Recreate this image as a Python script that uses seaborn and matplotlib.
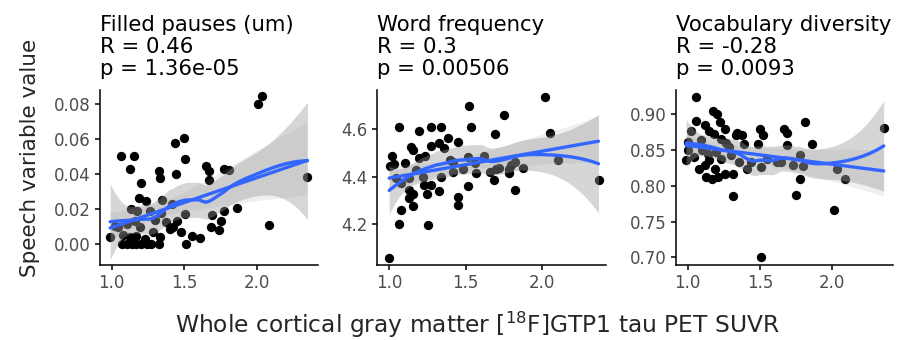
import numpy as np
import pandas as pd
import matplotlib
matplotlib.use("Agg")
import matplotlib.pyplot as plt
import seaborn as sns

# Whole cortical tau PET SUVR (x) and speech measures (y)
fp_suvr = [2.005, 2.032, 1.495, 1.436, 1.502, 1.064, 1.155, 1.126, 1.326, 1.336,
           1.445, 1.205, 1.646, 1.673, 1.669, 1.776, 1.806, 2.347, 2.084, 1.863,
           1.772, 1.753, 1.689, 1.685, 1.737, 1.605, 1.555, 1.514, 1.502, 1.350,
           1.190, 1.235, 1.132, 1.178, 1.263, 1.418, 0.990, 1.023, 1.068, 1.103,
           1.137, 1.171, 1.205, 1.240, 1.274, 1.326, 1.080, 1.126, 1.171, 1.228,
           1.285, 1.331, 1.400, 1.377, 1.450, 1.422, 1.479, 1.297, 1.194, 1.103,
           1.160, 1.046, 1.342]
fp_value = [0.0800, 0.0846, 0.0603, 0.0580, 0.0488, 0.0503, 0.0503, 0.0430, 0.0420, 0.0377,
            0.0400, 0.0350, 0.0448, 0.0417, 0.0367, 0.0430, 0.0425, 0.0383, 0.0111, 0.0205,
            0.0188, 0.0130, 0.0168, 0.0096, 0.0082, 0.0033, 0.0048, 0.0000, 0.0172, 0.0249,
            0.0264, 0.0245, 0.0200, 0.0190, 0.0186, 0.0226, 0.0038, 0.0105, 0.0000, 0.0000,
            0.0000, 0.0000, 0.0000, 0.0000, 0.0000, 0.0000, 0.0054, 0.0038, 0.0048, 0.0029,
            0.0067, 0.0042, 0.0086, 0.0124, 0.0134, 0.0096, 0.0067, 0.0138, 0.0096, 0.0115,
            0.0134, 0.0096, 0.0180]

wf_suvr = [1.000, 2.022, 2.053, 2.108, 2.371, 1.523, 1.750, 1.534, 1.695, 1.066,
           1.192, 1.272, 1.342, 1.453, 1.382, 1.325, 1.272, 1.360, 1.143, 1.155,
           1.015, 1.007, 1.030, 1.106, 1.192, 1.232, 1.397, 1.419, 1.342, 1.044,
           1.077, 1.132, 1.177, 1.221, 1.276, 1.225, 1.132, 1.155, 1.132, 1.155,
           1.077, 1.066, 1.254, 1.325, 1.248, 1.448, 1.448, 1.515, 1.486, 1.567,
           1.563, 1.623, 1.662, 1.689, 1.700, 1.784, 1.795, 1.823, 1.784, 1.823,
           1.879, 1.515, 1.419, 1.717]
wf_value = [4.059, 4.737, 4.585, 4.470, 4.386, 4.699, 4.660, 4.608, 4.580, 4.610,
            4.594, 4.608, 4.608, 4.547, 4.561, 4.540, 4.530, 4.520, 4.526, 4.512,
            4.487, 4.445, 4.453, 4.456, 4.477, 4.487, 4.470, 4.421, 4.397, 4.393,
            4.372, 4.393, 4.428, 4.400, 4.365, 4.365, 4.344, 4.327, 4.309, 4.276,
            4.260, 4.200, 4.196, 4.340, 4.326, 4.316, 4.281, 4.361, 4.431, 4.417,
            4.459, 4.487, 4.421, 4.386, 4.431, 4.431, 4.449, 4.463, 4.417, 4.344,
            4.435, 4.484, 4.463, 4.435]

vd_suvr = [1.060, 1.177, 1.202, 1.057, 1.122, 1.225, 1.149, 1.184, 1.260, 1.345,
           1.333, 1.379, 1.023, 1.005, 1.000, 0.990, 1.092, 1.230, 1.264, 1.390,
           1.500, 1.520, 1.490, 1.667, 1.685, 1.811, 1.862, 1.690, 2.356, 1.103,
           1.143, 1.195, 1.230, 1.299, 1.149, 1.120, 1.080, 1.188, 1.172, 1.207,
           1.260, 1.317, 1.317, 1.409, 1.437, 1.506, 1.510, 1.552, 1.621, 1.648,
           1.731, 1.775, 1.798, 1.775, 1.752, 2.010, 2.034, 2.090, 1.041, 1.126,
           1.287, 1.356]
vd_value = [0.9244, 0.9050, 0.9000, 0.8910, 0.8850, 0.8895, 0.8770, 0.8730, 0.8800, 0.8740,
            0.8710, 0.8710, 0.8770, 0.8616, 0.8500, 0.8360, 0.8640, 0.8650, 0.8600, 0.8580,
            0.8790, 0.8710, 0.8580, 0.8790, 0.8740, 0.8886, 0.8580, 0.8570, 0.8810, 0.8500,
            0.8450, 0.8480, 0.8380, 0.8430, 0.8360, 0.8290, 0.8240, 0.8240, 0.8090, 0.8130,
            0.8160, 0.8170, 0.7860, 0.8230, 0.8340, 0.8260, 0.7000, 0.8370, 0.8340, 0.8340,
            0.8290, 0.8430, 0.8280, 0.8100, 0.7870, 0.7670, 0.8240, 0.8100, 0.8400, 0.8130,
            0.8540, 0.8340]

titles = ["Filled pauses (um)", "Word frequency", "Vocabulary diversity"]
r_text = ["0.46", "0.3", "-0.28"]
p_text = ["1.36e-05", "0.00506", "0.0093"]


def loess(x, y, grid, span=0.75):
    # local quadratic fit with tricube weights, like ggplot's geom_smooth(method="loess")
    x = np.asarray(x, float)
    y = np.asarray(y, float)
    n = len(x)
    q = int(np.floor(n * span))
    X = np.column_stack([np.ones(n), x, x ** 2])

    def operator(pts):
        rows = []
        for x0 in pts:
            d = np.abs(x - x0)
            h = np.sort(d)[q - 1]
            w = np.clip(1 - (d / h) ** 3, 0, None) ** 3
            W = X * w[:, None]
            rows.append(np.array([1, x0, x0 ** 2]) @ np.linalg.solve(X.T @ W, W.T))
        return np.array(rows)

    Lx = operator(x)
    Lg = operator(grid)
    R = np.eye(n) - Lx
    d1 = np.trace(R.T @ R)
    resid = y - Lx @ y
    sigma = np.sqrt(resid @ resid / d1)
    fit = Lg @ y
    se = sigma * np.sqrt((Lg ** 2).sum(axis=1))
    return fit, se


panels = [
    (fp_suvr, fp_value, (-0.012, 0.088), [0, 0.02, 0.04, 0.06, 0.08], "{:.2f}", (100, 318, 90, 265)),
    (wf_suvr, wf_value, (4.028, 4.765), [4.2, 4.4, 4.6], "{:.1f}", (377, 606, 90, 265)),
    (vd_suvr, vd_value, (0.6895, 0.934), [0.70, 0.75, 0.80, 0.85, 0.90], "{:.2f}", (676, 893, 90, 265)),
]

sns.set_style("ticks")
plt.rcParams["font.family"] = ["DejaVu Sans"]

W, H = 898, 340
fig = plt.figure(figsize=(W / 100, H / 100), dpi=100)

blue = "#3366FF"
ribbon = (0.6, 0.6, 0.6, 0.4)

for i, (xs, ys, ylim, yticks, fmt, box) in enumerate(panels):
    l, r, t, b = box
    ax = fig.add_axes([l / W, 1 - b / H, (r - l) / W, (b - t) / H])
    df = pd.DataFrame({"suvr": xs, "value": ys})

    sns.scatterplot(data=df, x="suvr", y="value", ax=ax, color="black",
                    s=45, linewidth=0, zorder=2)

    # loess smooth with its confidence band
    grid = np.linspace(df.suvr.min(), df.suvr.max(), 80)
    fit, se = loess(df.suvr, df.value, grid)
    ax.fill_between(grid, fit - 2.0 * se, fit + 2.0 * se, color=ribbon, lw=0, zorder=3)
    ax.plot(grid, fit, color=blue, lw=2.4, zorder=4)

    # linear fit
    n_before = len(ax.collections)
    sns.regplot(data=df, x="suvr", y="value", ax=ax, scatter=False, ci=95,
                seed=1, color=blue, line_kws=dict(lw=2.4, zorder=4))
    for coll in ax.collections[n_before:]:
        coll.set_facecolor(ribbon)
        coll.set_edgecolor("none")
        coll.set_zorder(3)

    ax.set_xlim(0.92, 2.42)
    ax.set_ylim(*ylim)
    ax.set_xticks([1.0, 1.5, 2.0])
    ax.set_xticklabels(["1.0", "1.5", "2.0"])
    ax.set_yticks(yticks)
    ax.set_yticklabels([fmt.format(v) for v in yticks])
    ax.set_xlabel("")
    ax.set_ylabel("")
    sns.despine(ax=ax)
    for s in ["left", "bottom"]:
        ax.spines[s].set_linewidth(1.1)
        ax.spines[s].set_color("black")
    ax.tick_params(length=3.5, width=1.1, color="black", labelsize=12,
                   labelcolor="#4D4D4D", pad=3)

    ax.set_title(f"{titles[i]}\nR = {r_text[i]}\np = {p_text[i]}",
                 loc="left", fontsize=15.3, linespacing=1.12, pad=11, color="black")

fig.text(30 / W, 1 - 158 / H, "Speech variable value", rotation=90,
         ha="center", va="center", fontsize=15.5)
fig.text(477 / W, 1 - 333 / H, r"Whole cortical gray matter [$^{18}$F]GTP1 tau PET SUVR",
         ha="center", va="baseline", fontsize=16.8)

fig.savefig("out.png", dpi=100)
